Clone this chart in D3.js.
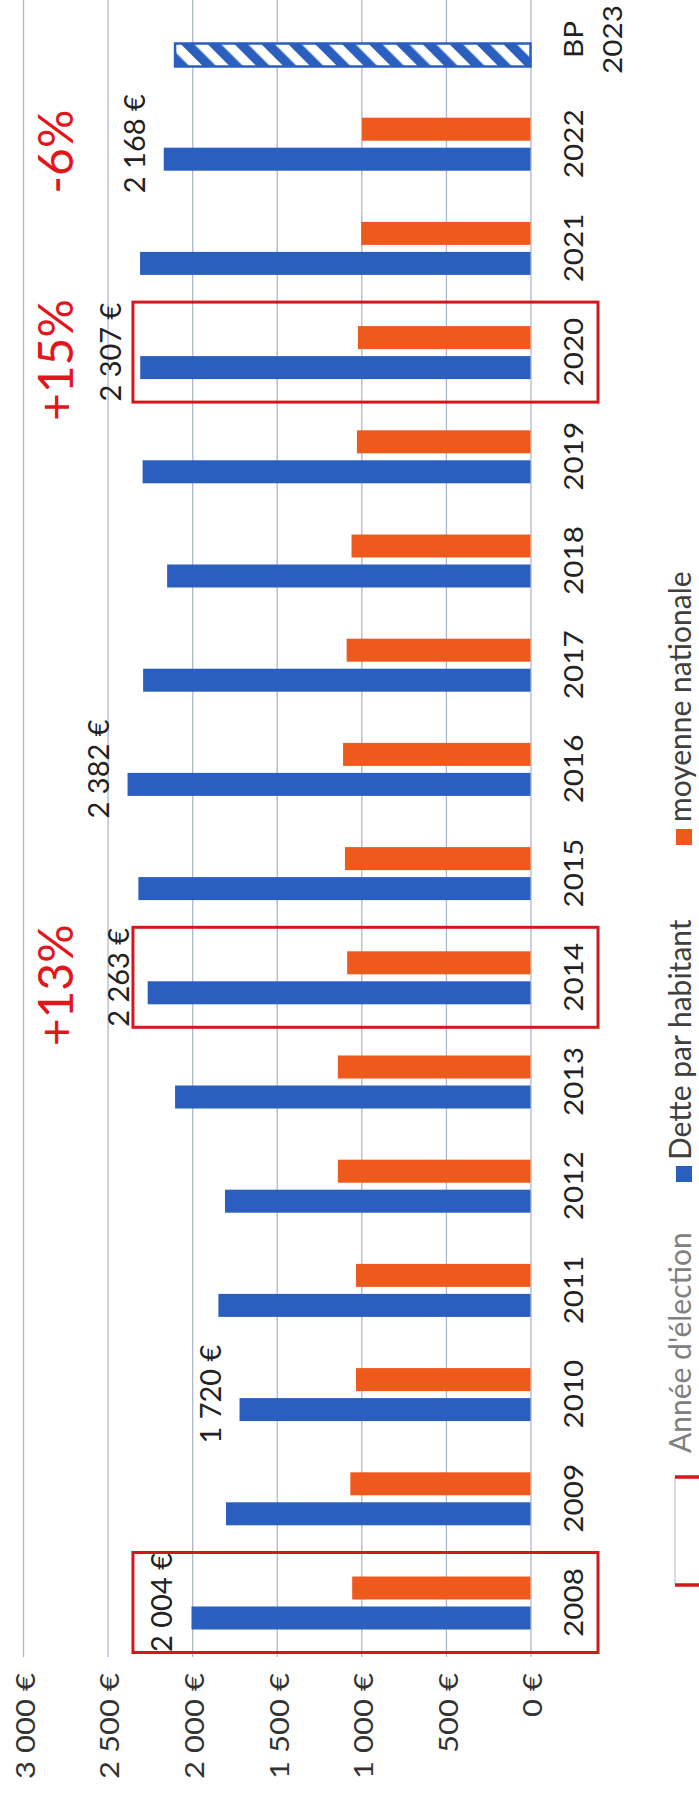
<!DOCTYPE html>
<html>
<head>
<meta charset="utf-8">
<script src="https://cdn.jsdelivr.net/npm/d3@7"></script>
<style>
  body { margin: 0; background: #fff; }
  svg { display: block; }
  text { font-family: Lato, "Open Sans", sans-serif; }
</style>
</head>
<body>
<svg id="chart"></svg>
<script>
const categories = ['2008', '2009', '2010', '2011', '2012', '2013', '2014', '2015',
    '2016', '2017', '2018', '2019', '2020', '2021', '2022', 'BP 2023'];
const detteParHabitant = [2004, 1800, 1720, 1845, 1806, 2101, 2263, 2318,
    2382, 2290, 2148, 2293, 2307, 2308, 2168, 2101];
const moyenneNationale = [1054, 1065, 1032, 1032, 1139, 1139, 1084, 1097,
    1108, 1087, 1058, 1026, 1020, 1001, 996, null];
const valueTicks = [0, 500, 1000, 1500, 2000, 2500, 3000];
const labelledYears = ['2008', '2010', '2014', '2016', '2020', '2022'];
const electionYears = ['2008', '2014', '2020'];
const changeYears = ['2014', '2020', '2022'];
const changeLabels = ['+13%', '+15%', '-6%'];
const legendLabels = ["Année d'élection", 'Dette par habitant', 'moyenne nationale'];

const blue = '#2a5fbf', orange = '#ee5a1c', red = '#d3181d';

const W = 699, H = 1798;
const svg = d3.select('#chart').attr('width', W).attr('height', H);

// hatch for the budget (BP) bar
const pat = svg.append('defs').append('pattern')
    .attr('id', 'hatch')
    .attr('patternUnits', 'userSpaceOnUse')
    .attr('width', 19).attr('height', 19)
    .attr('patternTransform', 'rotate(45)');
pat.append('rect').attr('width', 19).attr('height', 19).attr('fill', '#fff');
pat.append('rect').attr('width', 9.5).attr('height', 19).attr('fill', blue);

// the chart is drawn landscape (H wide, W tall) and turned a quarter left
const g = svg.append('g').attr('transform', `translate(0,${H}) rotate(-90)`);

const x0 = d3.scaleBand().domain(categories).range([143.4, 1810.6]);
const x1 = d3.scaleBand().domain(['dette', 'moyenne']).range([-27, 26]).paddingInner(0.233);
const y = d3.scaleLinear().domain([0, 3000]).range([530.5, 23]);
const mid = c => x0(c) + x0.bandwidth() / 2;

const fr = d3.formatLocale({ decimal: ',', thousands: '\u00a0', grouping: [3], currency: ['', '\u00a0€'] });
const euro = fr.format('$,');

const rows = categories.map((c, i) => ({ c, dette: detteParHabitant[i], moyenne: moyenneNationale[i] }));

// value axis + grid
g.append('g')
    .attr('transform', 'translate(141,0)')
    .call(d3.axisLeft(y).tickValues(valueTicks).tickFormat(euro).tickSize(-(H - 141)).tickPadding(16))
    .call(a => a.select('.domain').remove())
    .call(a => a.selectAll('.tick line').attr('stroke', '#adb7ce').attr('stroke-width', 1.3))
    .call(a => a.selectAll('.tick text')
        .attr('x', 0).attr('dy', '0.42em')
        .attr('transform', 'translate(-16,0) scale(1.15,1)')
        .attr('font-size', 27).attr('fill', '#333'));

// year axis
g.append('g')
    .attr('transform', 'translate(0,583)')
    .call(d3.axisBottom(x0).tickSize(0).tickPadding(0))
    .call(a => a.select('.domain').remove())
    .call(a => a.selectAll('.tick text')
        .attr('y', 0).attr('dy', 0)
        .attr('transform', 'scale(1.1,1)')
        .attr('font-size', 27).attr('fill', '#222')
        .each(function (d) {
            const parts = d.split(' ');
            if (parts.length > 1) {
                const t = d3.select(this).text(null);
                parts.forEach((p, i) => t.append('tspan').attr('x', 0).attr('dy', i ? 39 : 0).text(p));
            }
        }));

// dette par habitant
g.append('g').selectAll('rect')
    .data(rows)
    .join('rect')
    .attr('x', d => mid(d.c) + x1('dette'))
    .attr('width', x1.bandwidth())
    .attr('y', d => y(d.dette))
    .attr('height', d => y(0) - y(d.dette))
    .attr('fill', d => d.c.startsWith('BP') ? 'url(#hatch)' : blue)
    .attr('stroke', d => d.c.startsWith('BP') ? blue : 'none')
    .attr('stroke-width', 2.5);

// moyenne nationale
g.append('g').selectAll('rect')
    .data(rows.filter(d => d.moyenne != null))
    .join('rect')
    .attr('x', d => mid(d.c) + x1('moyenne'))
    .attr('width', x1.bandwidth())
    .attr('y', d => y(d.moyenne))
    .attr('height', d => y(0) - y(d.moyenne))
    .attr('fill', orange);

// election year frames
g.append('g').selectAll('rect')
    .data(electionYears)
    .join('rect')
    .attr('x', d => mid(d) - 50)
    .attr('width', 100)
    .attr('y', y(2350))
    .attr('height', 598 - y(2350))
    .attr('fill', 'none')
    .attr('stroke', red)
    .attr('stroke-width', 3);

// value labels
g.append('g').selectAll('text')
    .data(rows.filter(d => labelledYears.includes(d.c)))
    .join('text')
    .attr('x', d => mid(d.c))
    .attr('y', d => y(d.dette) - 19)
    .attr('text-anchor', 'middle')
    .attr('font-size', 29)
    .attr('fill', '#222')
    .text(d => euro(d.dette));

// change annotations
g.append('g').selectAll('text')
    .data(changeYears)
    .join('text')
    .attr('x', d => mid(d) - 8)
    .attr('y', 73)
    .attr('text-anchor', 'middle')
    .attr('font-size', 48)
    .attr('fill', '#e3161b')
    .text((d, i) => changeLabels[i]);

// legend along the bottom edge
const lg = g.append('g');
lg.append('rect').attr('x', 213).attr('y', 675).attr('width', 108).attr('height', 50).attr('fill', '#fff');
lg.append('line').attr('x1', 213).attr('x2', 321).attr('y1', 675).attr('y2', 675)
    .attr('stroke', '#bbb').attr('stroke-width', 1);
[213, 321].forEach(u => lg.append('line').attr('x1', u).attr('x2', u).attr('y1', 675).attr('y2', 725)
    .attr('stroke', red).attr('stroke-width', 3.5));
lg.append('text').attr('x', 345).attr('y', 691).attr('font-size', 30).attr('fill', '#808080').text(legendLabels[0]);

lg.append('rect').attr('x', 616).attr('y', 676).attr('width', 16).attr('height', 16).attr('fill', blue);
lg.append('text').attr('x', 638).attr('y', 691).attr('font-size', 30).attr('fill', '#404040').text(legendLabels[1]);

lg.append('rect').attr('x', 953).attr('y', 676).attr('width', 16).attr('height', 16).attr('fill', orange);
lg.append('text').attr('x', 976).attr('y', 691).attr('font-size', 30).attr('fill', '#404040').text(legendLabels[2]);
</script>
</body>
</html>
